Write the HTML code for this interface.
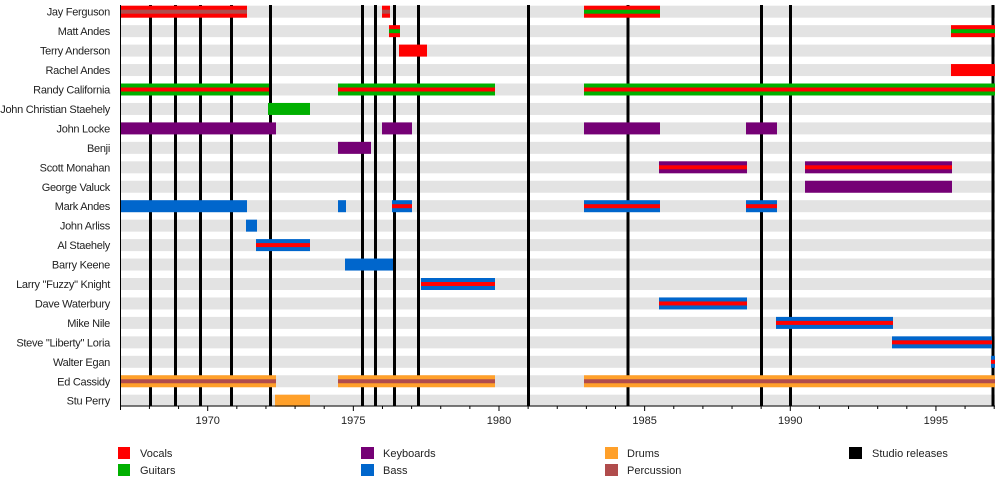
<!DOCTYPE html>
<html><head><meta charset="utf-8"><style>
html,body{margin:0;padding:0;background:#fff;}
svg{display:block;}
text{font-family:"Liberation Sans",Arial,sans-serif;font-size:11px;fill:#222;}
.lbl text{letter-spacing:-0.28px;}
</style></head><body>
<svg width="1000" height="480" viewBox="0 0 1000 480" xmlns="http://www.w3.org/2000/svg">
<!-- stripes -->
<g fill="#e3e3e3">
<rect x="121" y="5.7" width="874" height="12"/>
<rect x="121" y="25.15" width="874" height="12"/>
<rect x="121" y="44.6" width="874" height="12"/>
<rect x="121" y="64.05" width="874" height="12"/>
<rect x="121" y="83.5" width="874" height="12"/>
<rect x="121" y="102.95" width="874" height="12"/>
<rect x="121" y="122.4" width="874" height="12"/>
<rect x="121" y="141.85" width="874" height="12"/>
<rect x="121" y="161.3" width="874" height="12"/>
<rect x="121" y="180.75" width="874" height="12"/>
<rect x="121" y="200.2" width="874" height="12"/>
<rect x="121" y="219.65" width="874" height="12"/>
<rect x="121" y="239.1" width="874" height="12"/>
<rect x="121" y="258.55" width="874" height="12"/>
<rect x="121" y="278" width="874" height="12"/>
<rect x="121" y="297.45" width="874" height="12"/>
<rect x="121" y="316.9" width="874" height="12"/>
<rect x="121" y="336.35" width="874" height="12"/>
<rect x="121" y="355.8" width="874" height="12"/>
<rect x="121" y="375.25" width="874" height="12"/>
<rect x="121" y="394.7" width="874" height="12"/>
</g>
<!-- studio release lines -->
<g fill="#000">
<rect x="149" y="5" width="3" height="401"/>
<rect x="174" y="5" width="3" height="401"/>
<rect x="199" y="5" width="3" height="401"/>
<rect x="230" y="5" width="3" height="401"/>
<rect x="269" y="5" width="3" height="401"/>
<rect x="361" y="5" width="3" height="401"/>
<rect x="374" y="5" width="3" height="401"/>
<rect x="393" y="5" width="3" height="401"/>
<rect x="417" y="5" width="3" height="401"/>
<rect x="527" y="5" width="3" height="401"/>
<rect x="626.5" y="5" width="3" height="401"/>
<rect x="760" y="5" width="3" height="401"/>
<rect x="789" y="5" width="3" height="401"/>
<rect x="991.5" y="5" width="3" height="401"/>
</g>
<!-- bars -->
<rect x="121" y="5.7" width="126" height="12" fill="#ff0000"/><rect x="121" y="9.7" width="126" height="4" fill="#b04c4c"/>
<rect x="382" y="5.7" width="8" height="12" fill="#ff0000"/><rect x="382" y="9.7" width="8" height="4" fill="#b04c4c"/>
<rect x="584" y="5.7" width="76" height="12" fill="#ff0000"/><rect x="584" y="9.7" width="76" height="4" fill="#00b000"/>
<rect x="389" y="25.15" width="11" height="12" fill="#ff0000"/><rect x="389" y="29.15" width="11" height="4" fill="#00b000"/>
<rect x="951" y="25.15" width="44" height="12" fill="#ff0000"/><rect x="951" y="29.15" width="44" height="4" fill="#00b000"/>
<rect x="399" y="44.6" width="28" height="12" fill="#ff0000"/>
<rect x="951" y="64.05" width="44" height="12" fill="#ff0000"/>
<rect x="121" y="83.5" width="148" height="12" fill="#00b000"/><rect x="121" y="87.5" width="148" height="4" fill="#ff0000"/>
<rect x="338" y="83.5" width="157" height="12" fill="#00b000"/><rect x="338" y="87.5" width="157" height="4" fill="#ff0000"/>
<rect x="584" y="83.5" width="411" height="12" fill="#00b000"/><rect x="584" y="87.5" width="411" height="4" fill="#ff0000"/>
<rect x="268" y="102.95" width="42" height="12" fill="#00b000"/>
<rect x="121" y="122.4" width="155" height="12" fill="#750075"/>
<rect x="382" y="122.4" width="30" height="12" fill="#750075"/>
<rect x="584" y="122.4" width="76" height="12" fill="#750075"/>
<rect x="746" y="122.4" width="31" height="12" fill="#750075"/>
<rect x="338" y="141.85" width="33" height="12" fill="#750075"/>
<rect x="659" y="161.3" width="88" height="12" fill="#750075"/><rect x="659" y="165.3" width="88" height="4" fill="#ff0000"/>
<rect x="805" y="161.3" width="147" height="12" fill="#750075"/><rect x="805" y="165.3" width="147" height="4" fill="#ff0000"/>
<rect x="805" y="180.75" width="147" height="12" fill="#750075"/>
<rect x="121" y="200.2" width="126" height="12" fill="#0066cc"/>
<rect x="338" y="200.2" width="8" height="12" fill="#0066cc"/>
<rect x="392" y="200.2" width="20" height="12" fill="#0066cc"/><rect x="392" y="204.2" width="20" height="4" fill="#ff0000"/>
<rect x="584" y="200.2" width="76" height="12" fill="#0066cc"/><rect x="584" y="204.2" width="76" height="4" fill="#ff0000"/>
<rect x="746" y="200.2" width="31" height="12" fill="#0066cc"/><rect x="746" y="204.2" width="31" height="4" fill="#ff0000"/>
<rect x="246" y="219.65" width="11" height="12" fill="#0066cc"/>
<rect x="256" y="239.1" width="54" height="12" fill="#0066cc"/><rect x="256" y="243.1" width="54" height="4" fill="#ff0000"/>
<rect x="345" y="258.55" width="48" height="12" fill="#0066cc"/>
<rect x="421" y="278" width="74" height="12" fill="#0066cc"/><rect x="421" y="282" width="74" height="4" fill="#ff0000"/>
<rect x="659" y="297.45" width="88" height="12" fill="#0066cc"/><rect x="659" y="301.45" width="88" height="4" fill="#ff0000"/>
<rect x="776" y="316.9" width="117" height="12" fill="#0066cc"/><rect x="776" y="320.9" width="117" height="4" fill="#ff0000"/>
<rect x="892" y="336.35" width="100" height="12" fill="#0066cc"/><rect x="892" y="340.35" width="100" height="4" fill="#ff0000"/>
<rect x="991" y="355.8" width="4" height="12" fill="#0066cc"/><rect x="991" y="359.8" width="4" height="4" fill="#ff0000"/>
<rect x="121" y="375.25" width="155" height="12" fill="#ffa02a"/><rect x="121" y="379.25" width="155" height="4" fill="#b04c4c"/>
<rect x="338" y="375.25" width="157" height="12" fill="#ffa02a"/><rect x="338" y="379.25" width="157" height="4" fill="#b04c4c"/>
<rect x="584" y="375.25" width="411" height="12" fill="#ffa02a"/><rect x="584" y="379.25" width="411" height="4" fill="#b04c4c"/>
<rect x="275" y="394.7" width="35" height="12" fill="#ffa02a"/>

<!-- axes -->
<rect x="120" y="5" width="1" height="402" fill="#000"/>
<rect x="120" y="405.5" width="875" height="1" fill="#000"/>
<path stroke="#000" stroke-width="1" fill="none" d="
M120.5 406v4 M149.43 406v3 M178.56 406v3 M207.69 406v5 M236.82 406v3 M265.95 406v3 M295.08 406v3 M324.21 406v3
M353.34 406v5 M382.47 406v3 M411.6 406v3 M440.73 406v3 M469.86 406v3 M498.99 406v5 M528.12 406v3 M557.25 406v3
M586.38 406v3 M615.51 406v3 M644.64 406v5 M673.77 406v3 M702.9 406v3 M732.03 406v3 M761.16 406v3 M790.29 406v5
M819.42 406v3 M848.55 406v3 M877.68 406v3 M906.81 406v3 M935.94 406v5 M965.07 406v3 M994.2 406v3"/>
<g text-anchor="middle">
<text x="207.7" y="424">1970</text>
<text x="353.3" y="424">1975</text>
<text x="499" y="424">1980</text>
<text x="644.6" y="424">1985</text>
<text x="790.3" y="424">1990</text>
<text x="935.9" y="424">1995</text>
</g>

<!-- row labels -->
<g class="lbl" text-anchor="end">
<text x="110" y="15.7">Jay Ferguson</text>
<text x="110" y="35.15">Matt Andes</text>
<text x="110" y="54.6">Terry Anderson</text>
<text x="110" y="74.05">Rachel Andes</text>
<text x="110" y="93.5">Randy California</text>
<text x="110" y="112.95">John Christian Staehely</text>
<text x="110" y="132.4">John Locke</text>
<text x="110" y="151.85">Benji</text>
<text x="110" y="171.3">Scott Monahan</text>
<text x="110" y="190.75">George Valuck</text>
<text x="110" y="210.2">Mark Andes</text>
<text x="110" y="229.65">John Arliss</text>
<text x="110" y="249.1">Al Staehely</text>
<text x="110" y="268.55">Barry Keene</text>
<text x="110" y="288">Larry "Fuzzy" Knight</text>
<text x="110" y="307.45">Dave Waterbury</text>
<text x="110" y="326.9">Mike Nile</text>
<text x="110" y="346.35">Steve "Liberty" Loria</text>
<text x="110" y="365.8">Walter Egan</text>
<text x="110" y="385.25">Ed Cassidy</text>
<text x="110" y="404.7">Stu Perry</text>
</g>

<!-- legend -->
<rect x="118" y="447" width="12" height="12" fill="#ff0000"/>
<text x="140" y="457">Vocals</text>
<rect x="118" y="464" width="12" height="12" fill="#00b000"/>
<text x="140" y="474">Guitars</text>
<rect x="361" y="447" width="13" height="12" fill="#750075"/>
<text x="383" y="457">Keyboards</text>
<rect x="361" y="464" width="13" height="12" fill="#0066cc"/>
<text x="383" y="474">Bass</text>
<rect x="605" y="447" width="13" height="12" fill="#ffa02a"/>
<text x="627" y="457">Drums</text>
<rect x="605" y="464" width="13" height="12" fill="#b04c4c"/>
<text x="627" y="474">Percussion</text>
<rect x="849" y="447" width="13" height="12" fill="#000"/>
<text x="872" y="457">Studio releases</text>
</svg>
</body></html>
